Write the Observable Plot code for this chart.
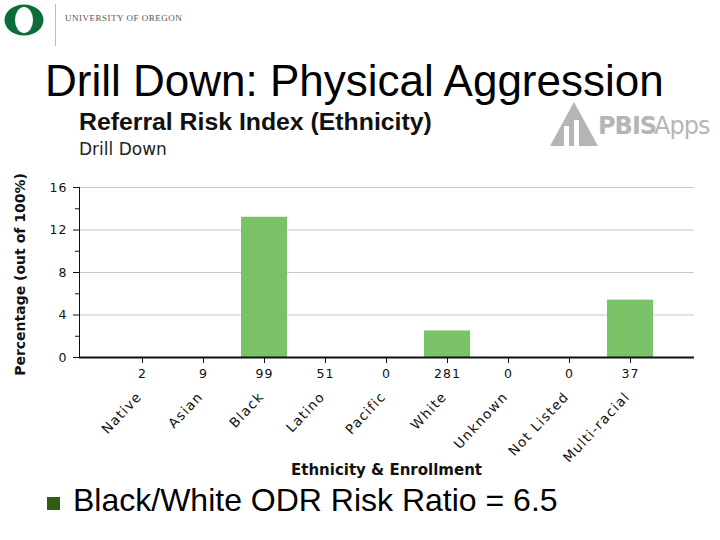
<!DOCTYPE html>
<html>
<head>
<meta charset="utf-8">
<script src="https://cdn.jsdelivr.net/npm/d3@7"></script>
<script src="https://cdn.jsdelivr.net/npm/@observablehq/plot@0.6"></script>
<style>
  html, body { margin: 0; padding: 0; background: #fff; }
  body { width: 720px; height: 540px; position: relative; overflow: hidden; font-family: "Liberation Sans", Arial, sans-serif; }
  .abs { position: absolute; }
  #logoO { left: 0; top: 0; }
  #divider { left: 55px; top: 4px; width: 1px; height: 42px; background: #bbb; }
  #uo { left: 65px; top: 13px; font-family: "Liberation Serif", serif; font-size: 9px; letter-spacing: 0.5px; color: #555; }
  #heading { left: 45px; top: 56px; font-size: 44px; color: #000; white-space: nowrap; }
  #ctitle { left: 79px; top: 108px; font-family: "Liberation Sans", Arial, sans-serif; font-weight: bold; font-size: 24.8px; color: #111; white-space: nowrap; }
  #csub { left: 79px; top: 139px; font-family: "DejaVu Sans", sans-serif; font-size: 17px; color: #222; }
  #pbis { left: 550px; top: 100px; }
  #chart { left: 0; top: 150px; }
  #bullet { left: 47px; top: 497px; width: 13px; height: 13px; background: #2e5e12; }
  #note { left: 73px; top: 482px; font-size: 32px; color: #000; white-space: nowrap; }
  .spaced text { letter-spacing: 1px; }
  .spaced2 text { letter-spacing: 1.3px; }
</style>
</head>
<body>
<svg id="logoO" class="abs" width="50" height="42">
  <ellipse cx="24" cy="20" rx="19.5" ry="15.5" fill="#0b6e3a"/>
  <ellipse cx="24" cy="20" rx="9" ry="13" fill="#fff"/>
</svg>
<div id="divider" class="abs"></div>
<div id="uo" class="abs">UNIVERSITY OF OREGON</div>
<div id="heading" class="abs">Drill Down: Physical Aggression</div>
<div id="ctitle" class="abs">Referral Risk Index (Ethnicity)</div>
<div id="csub" class="abs">Drill Down</div>
<div id="pbis" class="abs">
  <svg width="160" height="48">
    <polygon points="0,46 24,2 48,46" fill="#b5b5b5"/>
    <rect x="14" y="26" width="5" height="20" fill="#fff"/>
    <rect x="24" y="20" width="5" height="26" fill="#fff"/>
    <text x="48" y="34" font-family="DejaVu Sans, sans-serif" font-size="24" font-weight="bold" fill="#b5b5b5" letter-spacing="-1">PBIS</text>
    <text x="104" y="34" font-family="DejaVu Sans, sans-serif" font-size="24" fill="#b5b5b5" letter-spacing="-1">Apps</text>
  </svg>
</div>
<div id="chart" class="abs"></div>
<div id="bullet" class="abs"></div>
<div id="note" class="abs">Black/White ODR Risk Ratio = 6.5</div>
<script>
const categories = ["Native", "Asian", "Black", "Latino", "Pacific", "White", "Unknown", "Not Listed", "Multi-racial"];
const enrollment = [2, 9, 99, 51, 0, 281, 0, 0, 37];
const percentages = [0, 0, 13.2, 0, 0, 2.5, 0, 0, 5.4];
const majorTicks = [0, 4, 8, 12, 16];
const minorTicks = [2, 6, 10, 14];
const gridTicks = [4, 8, 12, 16];

const data = categories.map((c, i) => ({category: c, enrollment: enrollment[i], pct: percentages[i]}));
const enrollOf = new Map(data.map(d => [d.category, d.enrollment]));

const font = "'DejaVu Sans', sans-serif";

const plot = Plot.plot({
  width: 720,
  height: 340,
  marginTop: 37,
  marginBottom: 133,
  marginLeft: 79,
  marginRight: 26,
  style: {fontFamily: font, fontSize: "12px", color: "#111", background: "transparent", overflow: "visible"},
  x: {domain: categories, padding: 0.24, insetLeft: 23, insetRight: 23},
  y: {domain: [0, 16]},
  marks: [
    Plot.gridY(gridTicks, {stroke: "#c8c8c8", strokeOpacity: 1, strokeWidth: 1}),
    Plot.barY(data, {x: "category", y: "pct", fill: "#79c267"}),
    Plot.frame({anchor: "left", stroke: "#111", strokeWidth: 1}),
    Plot.ruleY([0], {stroke: "#111", strokeWidth: 2}),
    Plot.axisY(majorTicks, {tickSize: 6, tickPadding: 6, fontSize: 12.5, label: null}),
    Plot.axisY(minorTicks, {tickSize: 4, tickFormat: () => "", label: null}),
    Plot.axisX({tickSize: 6, tickPadding: 6, fontSize: 12.5, tickFormat: d => enrollOf.get(d), label: null}),
    Plot.axisX({tickSize: 0, tickRotate: -47, dy: 25, dx: -3, fontSize: 13.5, label: null}),
    Plot.text(["Ethnicity & Enrollment"], {frameAnchor: "bottom", dy: 113, lineAnchor: "middle", fontWeight: "bold", fontSize: 15, x: () => "Pacific"}),
    Plot.text(["Percentage (out of 100%)"], {frameAnchor: "left", dx: -59, dy: 2, rotate: -90, textAnchor: "middle", fontWeight: "bold", fontSize: 14})
  ]
});
// letter spacing for tick labels (styling only)
const tickGroups = plot.querySelectorAll('g[aria-label="x-axis tick label"]');
if (tickGroups[0]) tickGroups[0].classList.add("spaced");
if (tickGroups[1]) tickGroups[1].classList.add("spaced2");
plot.querySelectorAll('g[aria-label="y-axis tick label"]').forEach(g => g.classList.add("spaced"));
document.getElementById("chart").appendChild(plot);
</script>
</body>
</html>
